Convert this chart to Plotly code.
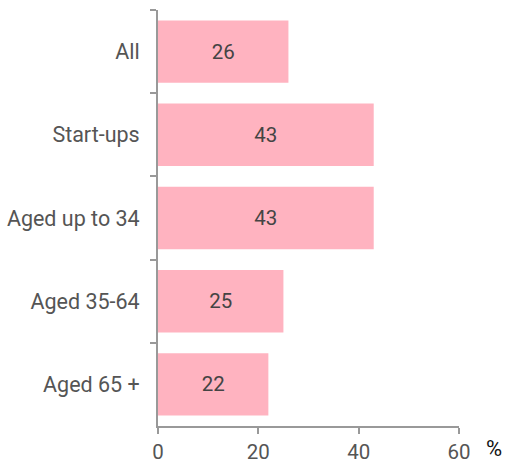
import plotly.graph_objects as go

categories = ["All", "Start-ups", "Aged up to 34", "Aged 35-64", "Aged 65 +"]
values = [26, 43, 43, 25, 22]
x_ticks = [0, 20, 40, 60]

fig = go.Figure(go.Bar(
    y=categories, x=values, orientation="h",
    marker=dict(color="#FFB3C0", line=dict(width=0)),
    text=[str(v) for v in values], textposition="inside", insidetextanchor="middle",
    textfont=dict(family="Roboto", size=20.5, color="#444444"),
    width=0.75,
))

fig.update_layout(
    width=505, height=463,
    margin=dict(l=158, r=46, t=10, b=37),
    plot_bgcolor="white", paper_bgcolor="white",
    showlegend=False,
    font=dict(family="Roboto", size=21, color="#555555"),
    xaxis=dict(range=[0, 60], tickvals=x_ticks, showgrid=False, zeroline=False,
               showline=True, linecolor="#999999", linewidth=2,
               ticks="outside", ticklen=6, tickwidth=2, tickcolor="#999999",
               ticklabelstandoff=0, automargin=False,
               tickfont=dict(size=20.5, color="#555555")),
    yaxis=dict(autorange="reversed", showgrid=False, zeroline=False,
               showline=True, linecolor="#999999", linewidth=2,
               ticks="outside", ticklen=6, tickwidth=2, tickcolor="#999999",
               tickson="boundaries", ticklabelstandoff=12, automargin=False,
               tickfont=dict(size=21.5, color="#555555")),
    annotations=[dict(text="%", xref="paper", yref="paper", x=1.0, y=0, xshift=35, yshift=-37,
                      xanchor="center", yanchor="bottom", showarrow=False,
                      font=dict(family="Roboto", size=22, color="#111111"))],
)

fig.write_html("out.html")
